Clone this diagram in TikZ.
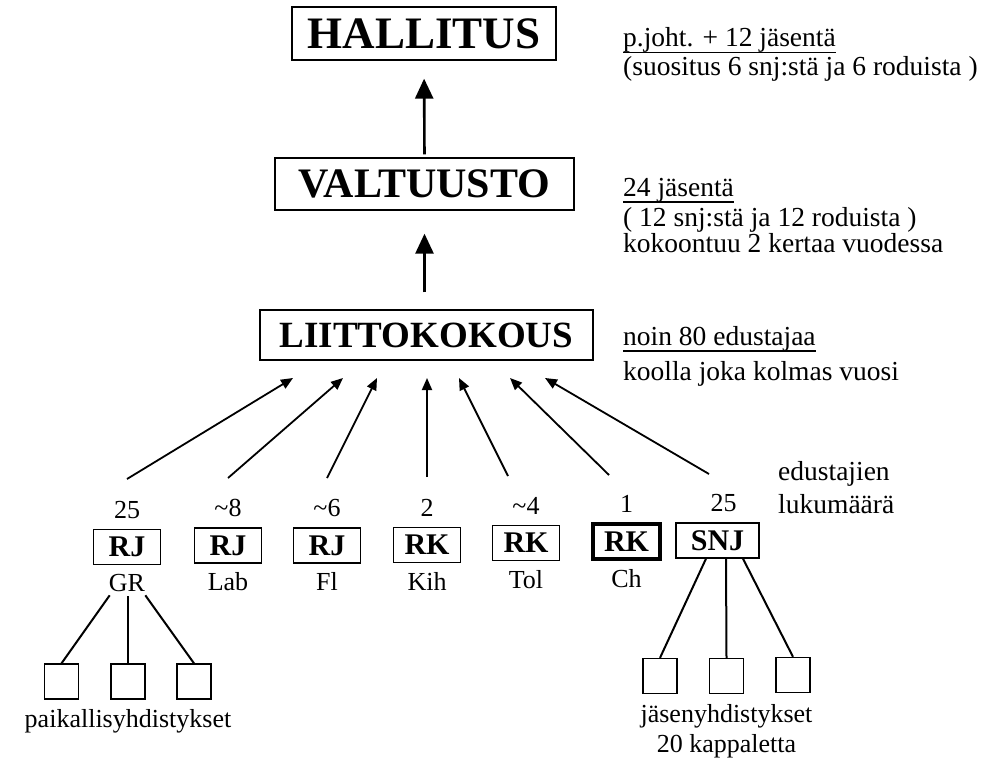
\documentclass[tikz,border=0pt]{standalone}
\usepackage{fontspec}
\setmainfont{Liberation Serif}
\usetikzlibrary{arrows.meta, positioning}
\newcommand{\hdline}[1]{\setbox0=\hbox{#1}\rlap{\rule[-6.5pt]{\wd0}{1.4pt}}\box0}

\begin{document}
\begin{tikzpicture} [x=1pt, y=1pt,
		bigbox/.style={draw, line width=1.3pt, inner sep=0pt},
		orgbox/.style={draw, line width=1.4pt, minimum width=67pt, minimum height=35pt, inner sep=0pt, font=\fontsize{30}{30}\selectfont\bfseries},
		small/.style={inner sep=0pt, font=\fontsize{26}{28}\selectfont},
		note/.style={anchor=base west, inner sep=0pt, font=\fontsize{27.5}{29}\selectfont},
		leaf/.style={draw, line width=1.3pt, minimum width=34pt, minimum height=35pt, inner sep=0pt},
		up/.style={-{Triangle[width=18pt, length=20pt]}, line width=2.6pt},
		feed/.style={-{Triangle[width=10pt, length=12pt]}, line width=1.8pt},
		branch/.style={line width=2pt}]
		\useasboundingbox (0,0) rectangle (998,-760);
		% the three levels
		\node (hallitus) [bigbox, minimum width=264pt, minimum height=53pt, font=\fontsize{45}{45}\selectfont\bfseries] at (424,-33.5) {HALLITUS};
		\node (valtuusto) [bigbox, minimum width=299pt, minimum height=52pt, font=\fontsize{42}{42}\selectfont\bfseries] at (424.5,-184) {VALTUUSTO};
		\node (liitto) [bigbox, minimum width=333pt, minimum height=50pt, font=\fontsize{37}{37}\selectfont\bfseries] at (426.5,-335) {LIITTOKOKOUS};
		\draw [up, shorten <=3pt, shorten >=18pt] (valtuusto.north) -- (hallitus.south);
		\draw [up, shorten <=17pt, shorten >=23pt] (liitto.north -| valtuusto.south) -- (valtuusto.south);
		% notes on the right
		\node (hnote1) [note] at (623,-47) {\hdline{p.joht. + 12 jäsentä}};
		\node (hnote2) [note] at (623,-75) {(suositus 6 snj:stä ja 6 roduista )};
		\node (vnote1) [note] at (623,-196) {\hdline{24 jäsentä}};
		\node (vnote2) [note] at (623,-226) {( 12 snj:stä ja 12 roduista )};
		\node (vnote3) [note] at (623,-252) {kokoontuu 2 kertaa vuodessa};
		\node (lnote1) [note] at (623,-345) {\hdline{noin 80 edustajaa}};
		\node (lnote2) [note] at (623,-380) {koolla joka kolmas vuosi};
		\node (enote1) [note] at (778,-480) {edustajien};
		\node (enote2) [note] at (778,-513) {lukumäärä};
		% member organisations
		\node (rjgr) [orgbox] at (127,-547) {RJ};
		\node (rjlab) [orgbox] at (228,-545.5) {RJ};
		\node (rjfl) [orgbox] at (327,-545.5) {RJ};
		\node (rkkih) [orgbox] at (427,-545) {RK};
		\node (rktol) [orgbox] at (526,-543) {RK};
		\node (rkch) [orgbox, line width=3.5pt] at (626.5,-541.5) {RK};
		\node (snj) [orgbox, minimum width=83pt] at (717.5,-540.5) {SNJ};
		\node (ngr) [small, above=10pt of rjgr] {25};
		\node (nlab) [small, above=10pt of rjlab] {\textasciitilde 8};
		\node (nfl) [small, above=10pt of rjfl] {\textasciitilde 6};
		\node (nkih) [small, above=10pt of rkkih] {2};
		\node (ntol) [small, above=10pt of rktol] {\textasciitilde 4};
		\node (nch) [small, above=10pt of rkch] {1};
		\node (nsnj) [small, above=10pt of snj, xshift=6pt] {25};
		\node (lgr) [small, below=9pt of rjgr] {GR};
		\node (llab) [small, below=9pt of rjlab] {Lab};
		\node (lfl) [small, below=9pt of rjfl] {Fl};
		\node (lkih) [small, below=9pt of rkkih] {Kih};
		\node (ltol) [small, below=9pt of rktol] {Tol};
		\node (lch) [small, below=9pt of rkch] {Ch};
		% delegates to the congress
		\foreach \i/\sx/\sy/\tx in {1/127/479/293, 2/228/478/343, 3/327/478/377, 4/427/477/427, 5/508/476/459, 6/609/475/510, 7/709/474/545} {
			\coordinate (from\i) at (\sx,-\sy);
			\coordinate (to\i) at (\tx,-378);
			\draw [feed] (from\i) -- (to\i);
		}
		% local associations
		\node (p1) [leaf] at (61.5,-681.5) {};
		\node (p2) [leaf] at (128,-681.5) {};
		\node (p3) [leaf] at (194,-681.5) {};
		\node (j1) [leaf] at (660,-676) {};
		\node (j2) [leaf] at (726.5,-676) {};
		\node (j3) [leaf] at (793,-675) {};
		\draw [branch, shorten <=4pt] ([xshift=-15pt]lgr.south) -- (p1.north);
		\draw [branch, shorten <=4pt] ([xshift=1pt]lgr.south) -- (p2.north);
		\draw [branch, shorten <=4pt] ([xshift=16pt]lgr.south) -- (p3.north);
		\draw [branch] ([xshift=-11.5pt]snj.south) -- (j1.north);
		\draw [branch] ([xshift=8.5pt]snj.south) -- (j2.north);
		\draw [branch] ([xshift=25.5pt]snj.south) -- (j3.north);
		\node (paik) [small, below=10pt of p2] {paikallisyhdistykset};
		\node (jasen) [small, below=10pt of j2] {jäsenyhdistykset};
		\node (kpl) [small, below=6pt of jasen] {20 kappaletta};
	\end{tikzpicture}
\end{document}
